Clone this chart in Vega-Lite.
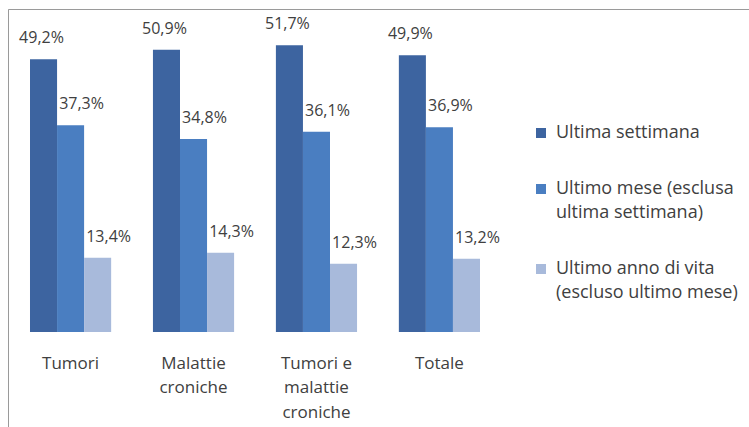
{
  "$schema": "https://vega.github.io/schema/vega-lite/v6.json",
  "width": 741,
  "height": 418,
  "autosize": {"type": "none"},
  "padding": {"left": 8, "top": 9, "right": 0, "bottom": 0},
  "background": "white",
  "config": {
    "font": "Open Sans",
    "locale": {"number": {"decimal": ",", "thousands": ".", "grouping": [3], "currency": ["€", ""]}},
    "view": {"stroke": "#9a9a9a", "strokeWidth": 1, "strokeDash": [741, 1159, 418]},
    "style": {"guide-label": {"lineHeight": 24}}
  },
  "data": {
    "values": [
      {"categoria": "Tumori", "serie": "Ultima settimana", "valore": 0.492},
      {"categoria": "Tumori", "serie": "Ultimo mese (esclusa|ultima settimana)", "valore": 0.373},
      {"categoria": "Tumori", "serie": "Ultimo anno di vita|(escluso ultimo mese)", "valore": 0.134},
      {"categoria": "Malattie|croniche", "serie": "Ultima settimana", "valore": 0.509},
      {"categoria": "Malattie|croniche", "serie": "Ultimo mese (esclusa|ultima settimana)", "valore": 0.348},
      {"categoria": "Malattie|croniche", "serie": "Ultimo anno di vita|(escluso ultimo mese)", "valore": 0.143},
      {"categoria": "Tumori e|malattie|croniche", "serie": "Ultima settimana", "valore": 0.517},
      {"categoria": "Tumori e|malattie|croniche", "serie": "Ultimo mese (esclusa|ultima settimana)", "valore": 0.361},
      {"categoria": "Tumori e|malattie|croniche", "serie": "Ultimo anno di vita|(escluso ultimo mese)", "valore": 0.123},
      {"categoria": "Totale", "serie": "Ultima settimana", "valore": 0.499},
      {"categoria": "Totale", "serie": "Ultimo mese (esclusa|ultima settimana)", "valore": 0.369},
      {"categoria": "Totale", "serie": "Ultimo anno di vita|(escluso ultimo mese)", "valore": 0.132}
    ]
  },
  "encoding": {
    "x": {
      "field": "categoria",
      "type": "nominal",
      "sort": null,
      "scale": {"range": [22, 472], "paddingInner": 0.34, "paddingOuter": 0},
      "axis": {
        "title": null,
        "domain": false,
        "ticks": false,
        "labelAngle": 0,
        "offset": -95,
        "labelPadding": 23,
        "labelFontSize": 17,
        "labelColor": "#404040",
        "labelLineHeight": 24.5,
        "labelBaseline": "top",
        "labelAlign": "center",
        "labelExpr": "split(datum.label, '|')"
      }
    },
    "xOffset": {
      "field": "serie",
      "type": "nominal",
      "scale": {
        "domain": ["Ultima settimana", "Ultimo mese (esclusa|ultima settimana)", "Ultimo anno di vita|(escluso ultimo mese)"],
        "paddingInner": 0,
        "paddingOuter": 0
      }
    },
    "y": {
      "field": "valore",
      "type": "quantitative",
      "scale": {"domain": [0, 0.55], "range": [323, 18], "nice": false, "zero": true},
      "axis": null
    }
  },
  "layer": [
    {
      "mark": {"type": "bar"},
      "encoding": {
        "color": {
          "field": "serie",
          "type": "nominal",
          "scale": {
            "domain": ["Ultima settimana", "Ultimo mese (esclusa|ultima settimana)", "Ultimo anno di vita|(escluso ultimo mese)"],
            "range": ["#3d64a0", "#4a7ec1", "#a8badb"]
          },
          "legend": {
            "orient": "none",
            "legendX": 524,
            "legendY": 115,
            "title": null,
            "symbolType": "square",
            "symbolSize": 100,
            "symbolStrokeWidth": 0,
            "labelFontSize": 18,
            "labelColor": "#404040",
            "labelOffset": 6,
            "labelLimit": 400,
            "rowPadding": 38,
            "padding": 0,
            "labelExpr": "split(datum.label, '|')"
          }
        }
      }
    },
    {
      "transform": [{"filter": "datum.serie == 'Ultima settimana'"}],
      "mark": {"type": "text", "dy": -21, "dx": -2, "fontSize": 16, "color": "#404040", "baseline": "middle"},
      "encoding": {"text": {"field": "valore", "type": "quantitative", "format": ".1%"}}
    },
    {
      "transform": [{"filter": "datum.serie != 'Ultima settimana'"}],
      "mark": {"type": "text", "dy": -21, "dx": 11, "fontSize": 16, "color": "#404040", "baseline": "middle"},
      "encoding": {"text": {"field": "valore", "type": "quantitative", "format": ".1%"}}
    }
  ]
}
